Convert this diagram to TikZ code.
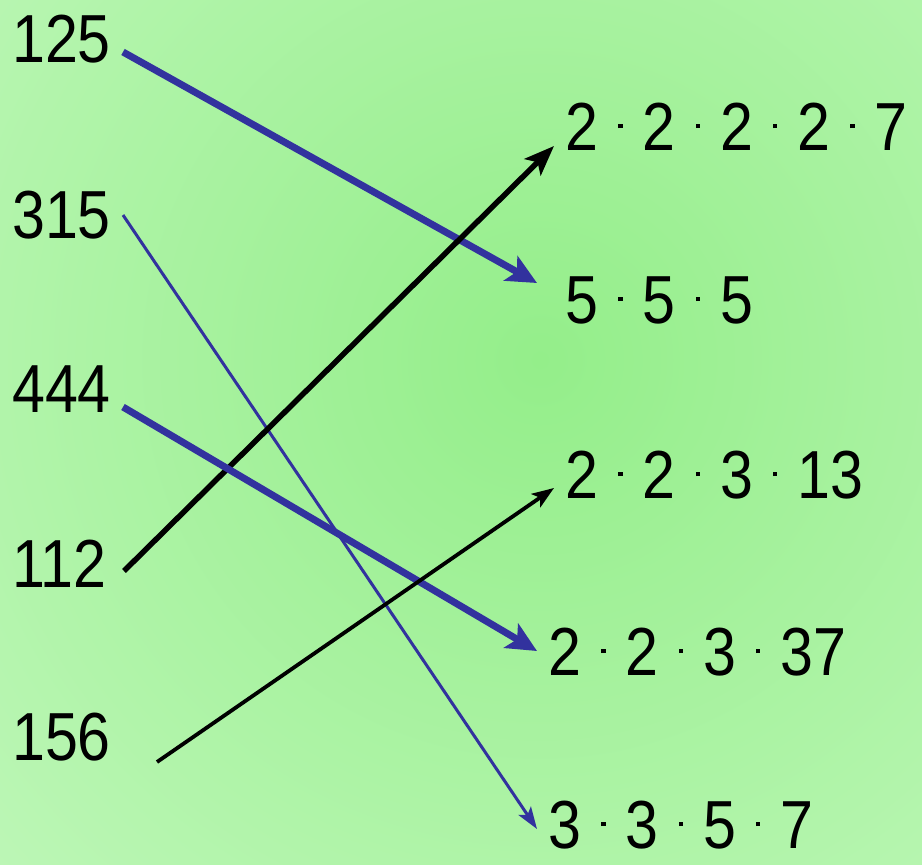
\documentclass[tikz,border=0pt]{standalone}
\usepackage{fontspec}
\setmainfont{Liberation Sans}[FakeStretch=0.87]
\usetikzlibrary{arrows.meta}
\definecolor{bgin}{HTML}{94EE8A}
\definecolor{bgout}{HTML}{D2FBCE}
\definecolor{arrblue}{HTML}{32329E}
\newcommand\md{\kern20pt\rule[22pt]{4.5pt}{4.5pt}\kern20pt}
\begin{document}
\begin{tikzpicture}[x=1pt,y=-1pt,
  lbl/.style={anchor=base west,inner sep=0pt,font=\fontsize{68}{80}\selectfont},
  thickblue/.style={draw=arrblue,line width=7pt,-{Stealth[length=30pt,width=28pt,inset=7pt]}},
  thinblue/.style={draw=arrblue,line width=3pt,-{Stealth[length=22pt,width=15pt,inset=5pt]}},
  thickblack/.style={draw=black,line width=5.5pt,-{Stealth[length=30pt,width=23pt,inset=7pt]}},
  thinblack/.style={draw=black,line width=3.8pt,-{Stealth[length=22pt,width=16pt,inset=5pt]}}]
\useasboundingbox (0,0) rectangle (922,865);
\begin{scope}
\clip (0,0) rectangle (922,865);
\shade[inner color=bgin,outer color=bgout] (540,360) circle (1150pt);
\end{scope}
% left numbers
\node[lbl] (n125) at (12,62) {125};
\node[lbl] (n315) at (12,238) {315};
\node[lbl] (n444) at (12,412) {444};
\node[lbl] (n112) at (12,587) {112};
\node[lbl] (n156) at (12,760) {156};
% right factorizations
\node[lbl] (f112) at (565,150) {2\md2\md2\md2\md7};
\node[lbl] (f125) at (565,323) {5\md5\md5};
\node[lbl] (f156) at (565,498) {2\md2\md3\md13};
\node[lbl] (f444) at (548,675) {2\md2\md3\md37};
\node[lbl] (f315) at (548,848) {3\md3\md5\md7};
% connector ends
\coordinate (s125) at (123,52);
\coordinate (t125) at (537,283);
\coordinate (s315) at (123,215);
\coordinate (t315) at (537,829);
\coordinate (s444) at (123,407);
\coordinate (t444) at (537,651);
\coordinate (s112) at (124,571);
\coordinate (t112) at (554,146);
\coordinate (s156) at (157,762);
\coordinate (t156) at (554,488);
% connectors
\draw[thinblue] (s315) -- (t315);
\draw[thickblue] (s125) -- (t125);
\draw[thickblack] (s112) -- (t112);
\draw[thickblue] (s444) -- (t444);
\draw[thinblack] (s156) -- (t156);
\end{tikzpicture}
\end{document}
